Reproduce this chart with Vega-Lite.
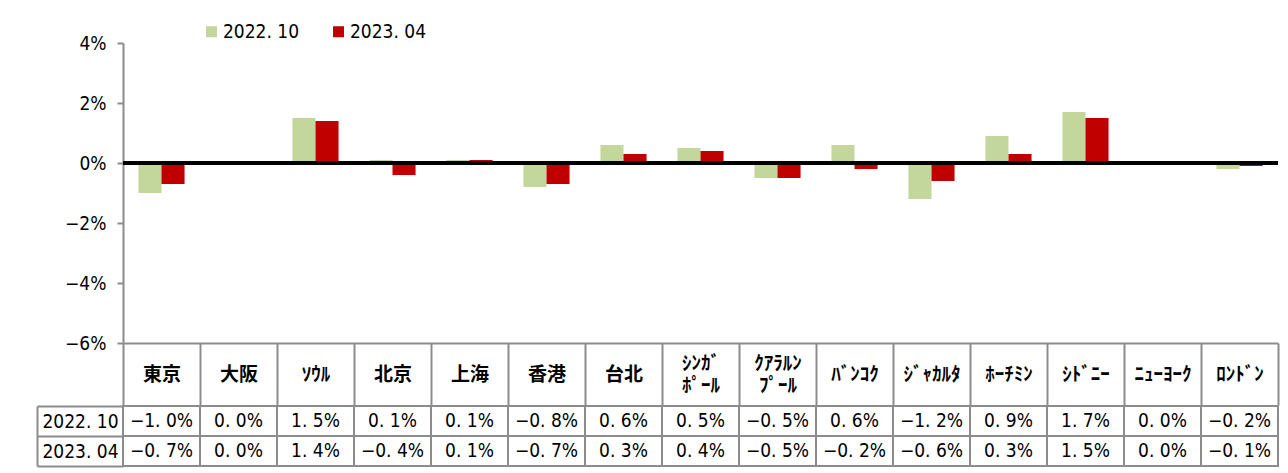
{
  "$schema": "https://vega.github.io/schema/vega-lite/v6.json",
  "padding": {"left": 36, "top": 22, "right": 5, "bottom": 5},
  "background": "white",
  "config": {"view": {"stroke": null}, "font": "DejaVu Sans Condensed, Liberation Sans, sans-serif"},
  "data": {"values": [
    {"city": "東京", "series": "2022. 10", "v": -1.0},
    {"city": "東京", "series": "2023. 04", "v": -0.7},
    {"city": "大阪", "series": "2022. 10", "v": 0.0},
    {"city": "大阪", "series": "2023. 04", "v": 0.0},
    {"city": "ｿｳﾙ", "series": "2022. 10", "v": 1.5},
    {"city": "ｿｳﾙ", "series": "2023. 04", "v": 1.4},
    {"city": "北京", "series": "2022. 10", "v": 0.1},
    {"city": "北京", "series": "2023. 04", "v": -0.4},
    {"city": "上海", "series": "2022. 10", "v": 0.1},
    {"city": "上海", "series": "2023. 04", "v": 0.1},
    {"city": "香港", "series": "2022. 10", "v": -0.8},
    {"city": "香港", "series": "2023. 04", "v": -0.7},
    {"city": "台北", "series": "2022. 10", "v": 0.6},
    {"city": "台北", "series": "2023. 04", "v": 0.3},
    {"city": "ｼﾝｶﾞ|ﾎﾟｰﾙ", "series": "2022. 10", "v": 0.5},
    {"city": "ｼﾝｶﾞ|ﾎﾟｰﾙ", "series": "2023. 04", "v": 0.4},
    {"city": "ｸｱﾗﾙﾝ|ﾌﾟｰﾙ", "series": "2022. 10", "v": -0.5},
    {"city": "ｸｱﾗﾙﾝ|ﾌﾟｰﾙ", "series": "2023. 04", "v": -0.5},
    {"city": "ﾊﾞﾝｺｸ", "series": "2022. 10", "v": 0.6},
    {"city": "ﾊﾞﾝｺｸ", "series": "2023. 04", "v": -0.2},
    {"city": "ｼﾞｬｶﾙﾀ", "series": "2022. 10", "v": -1.2},
    {"city": "ｼﾞｬｶﾙﾀ", "series": "2023. 04", "v": -0.6},
    {"city": "ﾎｰﾁﾐﾝ", "series": "2022. 10", "v": 0.9},
    {"city": "ﾎｰﾁﾐﾝ", "series": "2023. 04", "v": 0.3},
    {"city": "ｼﾄﾞﾆｰ", "series": "2022. 10", "v": 1.7},
    {"city": "ｼﾄﾞﾆｰ", "series": "2023. 04", "v": 1.5},
    {"city": "ﾆｭｰﾖｰｸ", "series": "2022. 10", "v": 0.0},
    {"city": "ﾆｭｰﾖｰｸ", "series": "2023. 04", "v": 0.0},
    {"city": "ﾛﾝﾄﾞﾝ", "series": "2022. 10", "v": -0.2},
    {"city": "ﾛﾝﾄﾞﾝ", "series": "2023. 04", "v": -0.1}
  ]},
  "spacing": -11,
  "vconcat": [
    {
      "width": 1155,
      "height": 300,
      "layer": [
        {
          "mark": {"type": "bar", "stroke": null},
          "encoding": {
            "x": {
              "field": "city", "type": "nominal", "sort": null,
              "scale": {"paddingInner": 0, "paddingOuter": 0},
              "axis": {
                "title": null, "orient": "bottom",
                "domainColor": "#8c8c8c", "domainWidth": 2,
                "tickBand": "extent", "tickSize": 62, "tickColor": "#8c8c8c", "tickWidth": 2,
                "labelAngle": 0, "labelAlign": "center", "labelBaseline": "middle", "labelPadding": -42,
                "labelFont": "Noto Sans CJK JP", "labelFontSize": 19, "labelFontWeight": "bold", "labelLineHeight": 11,
                "labelColor": "black", "labelLimit": 0, "labelOverlap": false, "labelFlush": false,
                "labelExpr": "indexof(datum.label, '|') >= 0 ? [split(datum.label, '|')[0], '\u2800', split(datum.label, '|')[1]] : ['\u2800', datum.label]"
              }
            },
            "xOffset": {"field": "series", "type": "nominal", "sort": null, "scale": {"paddingInner": 0, "paddingOuter": 0.67}},
            "y": {
              "field": "v", "type": "quantitative",
              "scale": {"domain": [-6, 4], "nice": false, "zero": false},
              "axis": {
                "title": null, "values": [-6, -4, -2, 0, 2, 4], "grid": false,
                "domainColor": "#8c8c8c", "domainWidth": 2,
                "tickColor": "#8c8c8c", "tickWidth": 2, "tickSize": 6,
                "labelFontSize": 19, "labelColor": "black", "labelPadding": 11,
                "labelExpr": "format(datum.value, 'd') + '%'"
              }
            },
            "color": {
              "field": "series", "type": "nominal", "sort": null,
              "scale": {"range": ["#c3d69b", "#c00000"]},
              "legend": {
                "title": null, "orient": "none", "direction": "horizontal",
                "legendX": 79, "legendY": -21,
                "symbolType": "square", "symbolSize": 121, "symbolStrokeWidth": 0,
                "labelFontSize": 19, "labelColor": "black", "labelOffset": 2,
                "columnPadding": 29
              }
            }
          }
        },
        {
          "mark": {"type": "rule", "color": "black", "strokeWidth": 2.5},
          "encoding": {"y": {"datum": 0}}
        }
      ]
    },
    {
      "width": 1155,
      "height": 60,
      "transform": [{"calculate": "replace(format(datum.v, '.1f'), '.', '. ') + '%'", "as": "lab"}],
      "encoding": {
        "x": {"field": "city", "type": "nominal", "sort": null, "axis": null, "scale": {"paddingInner": 0, "paddingOuter": 0}},
        "y": {
          "field": "series", "type": "nominal", "sort": null,
          "scale": {"paddingInner": 0, "paddingOuter": 0},
          "axis": {
            "title": null, "orient": "left", "offset": 86,
            "domainColor": "#8c8c8c", "domainWidth": 2,
            "tickBand": "extent", "tickSize": -86, "tickColor": "#8c8c8c", "tickWidth": 2,
            "labelAlign": "center", "labelBaseline": "middle", "labelPadding": 43,
            "labelFontSize": 19, "labelColor": "black"
          }
        }
      },
      "layer": [
        {"mark": {"type": "rect", "fill": "white", "stroke": "#8c8c8c", "strokeWidth": 2}},
        {"mark": {"type": "text", "fontSize": 19, "color": "black", "baseline": "middle"}, "encoding": {"text": {"field": "lab"}}}
      ]
    }
  ]
}
